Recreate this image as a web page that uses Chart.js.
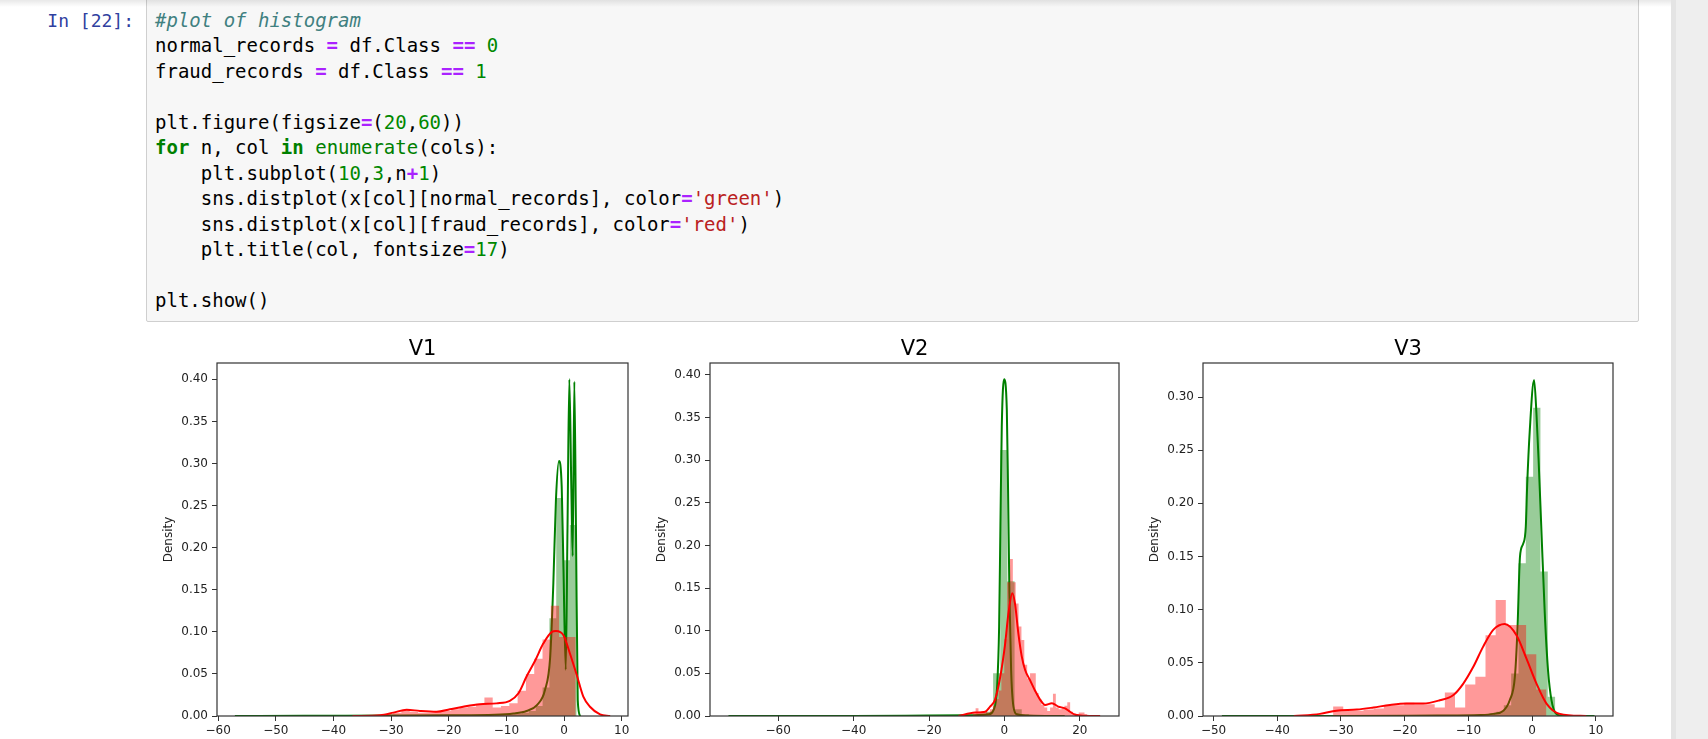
<!DOCTYPE html>
<html>
<head>
<meta charset="utf-8">
<script src="https://cdn.jsdelivr.net/npm/chart.js@4.4.1/dist/chart.umd.min.js"></script>
<style>
  html, body { margin: 0; padding: 0; }
  body { width: 1708px; height: 739px; overflow: hidden; background: #fff; position: relative; }
  .topshade { position: absolute; left: 0; top: 0; width: 1671px; height: 7px; z-index: 3;
              background: linear-gradient(rgba(0,0,0,0.09), rgba(0,0,0,0)); }
  .scrollbar { position: absolute; left: 1671px; top: 0; width: 32px; height: 739px;
               background: #eeeeee; border-left: 5px solid #e4e4e4; }
  .prompt { position: absolute; left: 0; top: 8px; width: 134px; text-align: right;
            font: 18px/25.45px "DejaVu Sans Mono", monospace; color: #303F9F; }
  .cell { position: absolute; left: 146px; top: -6px; width: 1491px; height: 326px;
          background: #f7f7f7; border: 1px solid #cfcfcf; border-radius: 2px; }
  pre.code { position: absolute; left: 155px; top: 8px; margin: 0;
             font: 19px/25.45px "DejaVu Sans Mono", monospace; color: #000; }
  .code .c { color: #408080; font-style: italic; }
  .code .o { color: #AA22FF; font-weight: bold; }
  .code .n { color: #008800; }
  .code .k { color: #008000; font-weight: bold; }
  .code .b { color: #008000; }
  .code .s { color: #BA2121; }
  canvas { position: absolute; }
</style>
</head>
<body>
<div class="topshade"></div>
<div class="scrollbar"></div>
<div class="prompt">In [22]:</div>
<div class="cell"></div>
<pre class="code"><span class="c">#plot of histogram</span>
normal_records <span class="o">=</span> df.Class <span class="o">==</span> <span class="n">0</span>
fraud_records <span class="o">=</span> df.Class <span class="o">==</span> <span class="n">1</span>

plt.figure(figsize<span class="o">=</span>(<span class="n">20</span>,<span class="n">60</span>))
<span class="k">for</span> n, col <span class="k">in</span> <span class="b">enumerate</span>(cols):
    plt.subplot(<span class="n">10</span>,<span class="n">3</span>,n<span class="o">+</span><span class="n">1</span>)
    sns.distplot(x[col][normal_records], color<span class="o">=</span><span class="s">'green'</span>)
    sns.distplot(x[col][fraud_records], color<span class="o">=</span><span class="s">'red'</span>)
    plt.title(col, fontsize<span class="o">=</span><span class="n">17</span>)

plt.show()</pre>

<canvas id="v1" width="486" height="426" style="left:162px;top:320px"></canvas>
<canvas id="v2" width="484" height="426" style="left:655px;top:320px"></canvas>
<canvas id="v3" width="485" height="426" style="left:1148px;top:320px"></canvas>

<script>
// --- V1 ---
const v1XRange = [-60.2, 11.1];
const v1YMax = 0.4194;
const v1XTicks = [-60, -50, -40, -30, -20, -10, 0, 10];
const v1YTicks = [0, 0.05, 0.10, 0.15, 0.20, 0.25, 0.30, 0.35, 0.40];
const v1NormalBinStart = -57.0;
const v1NormalBinWidth = 1.184;
const v1NormalHist = [
    0, 0, 0, 0, 0, 0, 0, 0, 0, 0,
    0, 0, 0, 0, 0, 0, 0, 0, 0, 0,
    0.0002, 0.0002, 0.0002, 0.0002, 0.0002, 0.0002, 0.0002, 0.0002, 0.0003, 0.0003,
    0.0004, 0.0004, 0.0005, 0.0005, 0.0006, 0.0008, 0.001, 0.001, 0.0012, 0.0015,
    0.002, 0.003, 0.004, 0.006, 0.012, 0.034, 0.116, 0.259, 0.185, 0.227
];
const v1FraudBinStart = -31.09;
const v1FraudBinWidth = 1.44;
const v1FraudHist = [
    0.002, 0.004, 0.007, 0.005, 0.004, 0.004, 0.005, 0.006, 0.008, 0.010, 0.011, 0.013,
    0.022, 0.010, 0.012, 0.015, 0.030, 0.050, 0.068, 0.091, 0.131, 0.094, 0.094
];
const v1NormalKdeX = [-57.1, -45, -30, -20, -12, -8.8, -6.5, -4.7, -3.3, -2.4, -1.85, -1.4,
    -0.87, -0.4, -0.1, 0.3, 0.6, 0.92, 1.27, 1.5, 1.79, 2.08, 2.38, 2.8];
const v1NormalKdeY = [0, 0.0003, 0.0005, 0.0008, 0.0015, 0.003, 0.006, 0.013, 0.031, 0.07, 0.158, 0.257,
    0.303, 0.272, 0.177, 0.055, 0.22, 0.40, 0.27, 0.19, 0.397, 0.217, 0.019, 0];
const v1FraudKdeX = [-36.7, -31.9, -29.6, -27.3, -25, -22.1, -19.8, -17.5, -14.6, -11.7, -9.4, -7.9,
    -6.5, -5.0, -3.6, -2.1, -1.4, -0.1, 1.04, 2.2, 3.35, 4.5, 6.25, 8.0];
const v1FraudKdeY = [0, 0.001, 0.004, 0.0075, 0.006, 0.005, 0.008, 0.011, 0.014, 0.015, 0.018, 0.027,
    0.047, 0.066, 0.086, 0.100, 0.101, 0.096, 0.074, 0.049, 0.023, 0.011, 0.002, 0];

// --- V2 ---
const v2XRange = [-78.1, 30.4];
const v2YMax = 0.414;
const v2XTicks = [-60, -40, -20, 0, 20];
const v2YTicks = [0, 0.05, 0.10, 0.15, 0.20, 0.25, 0.30, 0.35, 0.40];
const v2NormalBinStart = -73.3;
const v2NormalBinWidth = 1.9;
const v2NormalHist = [
    0, 0, 0, 0, 0, 0, 0, 0, 0, 0,
    0, 0, 0, 0, 0, 0, 0, 0, 0, 0,
    0.0002, 0.0002, 0.0002, 0.0002, 0.0002, 0.0002, 0.0002, 0.0002, 0.0003, 0.0003,
    0.0005, 0.0005, 0.0007, 0.0008, 0.001, 0.002, 0.005, 0.05, 0.312, 0.158,
    0.008, 0.002, 0.001, 0.0005, 0.0003, 0.0002, 0.0002, 0.0001, 0.0001, 0
];
const v2FraudBinStart = -8.4;
const v2FraudBinWidth = 0.76;
const v2FraudHist = [
    0.003, 0.009, 0.004, 0.006, 0.005, 0.004, 0.008, 0.012, 0.02, 0.03,
    0.05, 0.09, 0.157, 0.184, 0.157, 0.132, 0.105, 0.089, 0.06, 0.044,
    0.05, 0.05, 0.027, 0.02, 0.013, 0.01, 0.006, 0.01, 0.026, 0.01,
    0.008, 0.01, 0.012, 0.016, 0.005, 0.003, 0.002, 0.004, 0.004, 0.002
];
const v2NormalKdeX = [-73.2, -40, -20, -8, -4.2, -2.9, -1.94, -1.4, -1.06, -0.7, -0.08, 0.64,
    0.98, 1.33, 1.78, 2.4, 3.3, 6, 12, 16];
const v2NormalKdeY = [0, 0, 0.0005, 0.001, 0.002, 0.007, 0.034, 0.105, 0.222, 0.339, 0.395, 0.359,
    0.261, 0.144, 0.054, 0.011, 0.002, 0.0005, 0, 0];
const v2FraudKdeX = [-12.2, -7.8, -5.1, -3.8, -2.5, -1.1, 0.2, 1.06, 2.1, 2.8, 3.7, 4.6,
    5.5, 6.8, 8.1, 9.5, 10.8, 12.6, 14.3, 16.1, 17.4, 18.8, 21.4, 25.4];
const v2FraudKdeY = [0, 0.004, 0.005, 0.011, 0.019, 0.046, 0.085, 0.12, 0.144, 0.132, 0.097, 0.07,
    0.054, 0.042, 0.030, 0.019, 0.013, 0.015, 0.011, 0.009, 0.005, 0.0015, 0.0003, 0];

// --- V3 ---
const v3XRange = [-51.66, 12.7];
const v3YMax = 0.332;
const v3XTicks = [-50, -40, -30, -20, -10, 0, 10];
const v3YTicks = [0, 0.05, 0.10, 0.15, 0.20, 0.25, 0.30];
const v3NormalBinStart = -48.14;
const v3NormalBinWidth = 1.15;
const v3NormalHist = [
    0, 0, 0, 0, 0, 0, 0, 0, 0, 0,
    0, 0, 0, 0, 0, 0.0002, 0.0002, 0.0002, 0.0002, 0.0002,
    0.0002, 0.0002, 0.0002, 0.0002, 0.0002, 0.0003, 0.0003, 0.0003, 0.0003, 0.0003,
    0.0005, 0.0006, 0.0008, 0.001, 0.0012, 0.0015, 0.002, 0.004, 0.01, 0.04,
    0.1436, 0.225, 0.29, 0.136, 0.018, 0.002, 0.0005, 0.0002, 0, 0
];
const v3FraudBinStart = -31.24;
const v3FraudBinWidth = 1.595;
const v3FraudHist = [
    0.009, 0.005, 0.005, 0.006, 0.007, 0.01, 0.01, 0.0125, 0.011, 0.011, 0.008,
    0.022, 0.008, 0.0296, 0.037, 0.076, 0.109, 0.0855, 0.0855, 0.058, 0.025
];
const v3NormalKdeX = [-48.7, -30, -15, -8, -6.1, -4.5, -3.5, -2.7, -2.3, -1.9, -1.4, -0.99,
    -0.78, -0.36, 0.31, 0.68, 1.04, 1.46, 1.99, 2.5, 3.04, 3.8, 4.9, 9.8];
const v3NormalKdeY = [0, 0, 0.0005, 0.001, 0.002, 0.005, 0.015, 0.037, 0.081, 0.15, 0.162, 0.178,
    0.216, 0.269, 0.316, 0.285, 0.238, 0.175, 0.0965, 0.043, 0.015, 0.002, 0, 0];
const v3FraudKdeX = [-37.4, -33.3, -30.7, -27.5, -24.9, -22.3, -19.7, -17.1, -14.5, -12.4, -10.8,
    -9.25, -7.7, -6.1, -4.3, -2.45, -0.88, 0.69, 2.26, 4.35, 8.5];
const v3FraudKdeY = [0, 0.002, 0.005, 0.006, 0.008, 0.0104, 0.0117, 0.0117, 0.0148, 0.0195, 0.0305,
    0.046, 0.065, 0.081, 0.0865, 0.076, 0.054, 0.0305, 0.0117, 0.002, 0];

Chart.defaults.font.family = "'DejaVu Sans', sans-serif";

// step outline of a histogram: one point per left bin edge, closed on the last right edge
function histPoints(start, width, heights) {
    const pts = heights.map((h, i) => ({ x: start + i * width, y: h }));
    pts.push({ x: start + heights.length * width, y: 0 });
    return pts;
}

function kdePoints(xs, ys) {
    return xs.map((x, i) => ({ x: x, y: ys[i] }));
}

const minus = v => (v < 0 ? '\u2212' + (-v) : String(v));

// matplotlib draws a box round every axes
const framePlugin = {
    id: 'frame',
    afterDraw(chart) {
        const { ctx, chartArea: a } = chart;
        ctx.save();
        ctx.strokeStyle = '#333';
        ctx.lineWidth = 1.2;
        ctx.strokeRect(a.left, a.top, a.right - a.left, a.bottom - a.top);
        ctx.restore();
    }
};

function drawPanel(canvasId, title, p) {
    const tickFont = { size: 12 };
    const gridOpts = { drawOnChartArea: false, drawTicks: true, tickLength: 5, color: '#333', lineWidth: 1 };
    return new Chart(document.getElementById(canvasId), {
        type: 'line',
        data: {
            datasets: [
                { data: kdePoints(p.fraudKdeX, p.fraudKdeY), borderColor: '#ff0000', borderWidth: 2,
                  cubicInterpolationMode: 'monotone', fill: false, order: 0 },
                { data: histPoints(p.fraudStart, p.fraudWidth, p.fraudHist), stepped: 'before',
                  fill: 'origin', backgroundColor: 'rgba(255,0,0,0.4)', borderColor: 'rgba(0,0,0,0)',
                  borderWidth: 0, order: 1 },
                { data: kdePoints(p.normalKdeX, p.normalKdeY), borderColor: '#008000', borderWidth: 2,
                  cubicInterpolationMode: 'monotone', fill: false, order: 2 },
                { data: histPoints(p.normalStart, p.normalWidth, p.normalHist), stepped: 'before',
                  fill: 'origin', backgroundColor: 'rgba(0,128,0,0.4)', borderColor: 'rgba(0,0,0,0)',
                  borderWidth: 0, order: 3 }
            ]
        },
        options: {
            responsive: false,
            animation: false,
            events: [],
            elements: { point: { radius: 0 } },
            layout: { padding: { left: 0, right: 20, top: 0, bottom: 0 } },
            plugins: {
                legend: { display: false },
                tooltip: { enabled: false },
                title: {
                    display: true, text: title, fullSize: false, color: '#000',
                    font: { size: 21, weight: 'normal' },
                    padding: { top: 17, bottom: 0.8 }
                }
            },
            scales: {
                x: {
                    type: 'linear', min: p.xRange[0], max: p.xRange[1],
                    afterBuildTicks: s => { s.ticks = p.xTicks.map(v => ({ value: v })); },
                    afterFit: s => { s.height = 30; },
                    ticks: { callback: minus, color: '#222', font: tickFont, padding: 3,
                             autoSkip: false, maxRotation: 0 },
                    grid: gridOpts,
                    border: { display: false }
                },
                y: {
                    type: 'linear', min: 0, max: p.yMax,
                    afterBuildTicks: s => { s.ticks = p.yTicks.map(v => ({ value: v })); },
                    afterFit: s => { s.width = 55; },
                    ticks: { callback: v => v.toFixed(2), color: '#222', font: tickFont, padding: 4,
                             autoSkip: false },
                    grid: gridOpts,
                    border: { display: false },
                    title: { display: true, text: 'Density', color: '#222', font: tickFont,
                             padding: { top: 0, bottom: 0 } }
                }
            }
        },
        plugins: [framePlugin]
    });
}

drawPanel('v1', 'V1', {
    xRange: v1XRange, yMax: v1YMax, xTicks: v1XTicks, yTicks: v1YTicks,
    normalStart: v1NormalBinStart, normalWidth: v1NormalBinWidth, normalHist: v1NormalHist,
    fraudStart: v1FraudBinStart, fraudWidth: v1FraudBinWidth, fraudHist: v1FraudHist,
    normalKdeX: v1NormalKdeX, normalKdeY: v1NormalKdeY, fraudKdeX: v1FraudKdeX, fraudKdeY: v1FraudKdeY
});
drawPanel('v2', 'V2', {
    xRange: v2XRange, yMax: v2YMax, xTicks: v2XTicks, yTicks: v2YTicks,
    normalStart: v2NormalBinStart, normalWidth: v2NormalBinWidth, normalHist: v2NormalHist,
    fraudStart: v2FraudBinStart, fraudWidth: v2FraudBinWidth, fraudHist: v2FraudHist,
    normalKdeX: v2NormalKdeX, normalKdeY: v2NormalKdeY, fraudKdeX: v2FraudKdeX, fraudKdeY: v2FraudKdeY
});
drawPanel('v3', 'V3', {
    xRange: v3XRange, yMax: v3YMax, xTicks: v3XTicks, yTicks: v3YTicks,
    normalStart: v3NormalBinStart, normalWidth: v3NormalBinWidth, normalHist: v3NormalHist,
    fraudStart: v3FraudBinStart, fraudWidth: v3FraudBinWidth, fraudHist: v3FraudHist,
    normalKdeX: v3NormalKdeX, normalKdeY: v3NormalKdeY, fraudKdeX: v3FraudKdeX, fraudKdeY: v3FraudKdeY
});
</script>
</body>
</html>
